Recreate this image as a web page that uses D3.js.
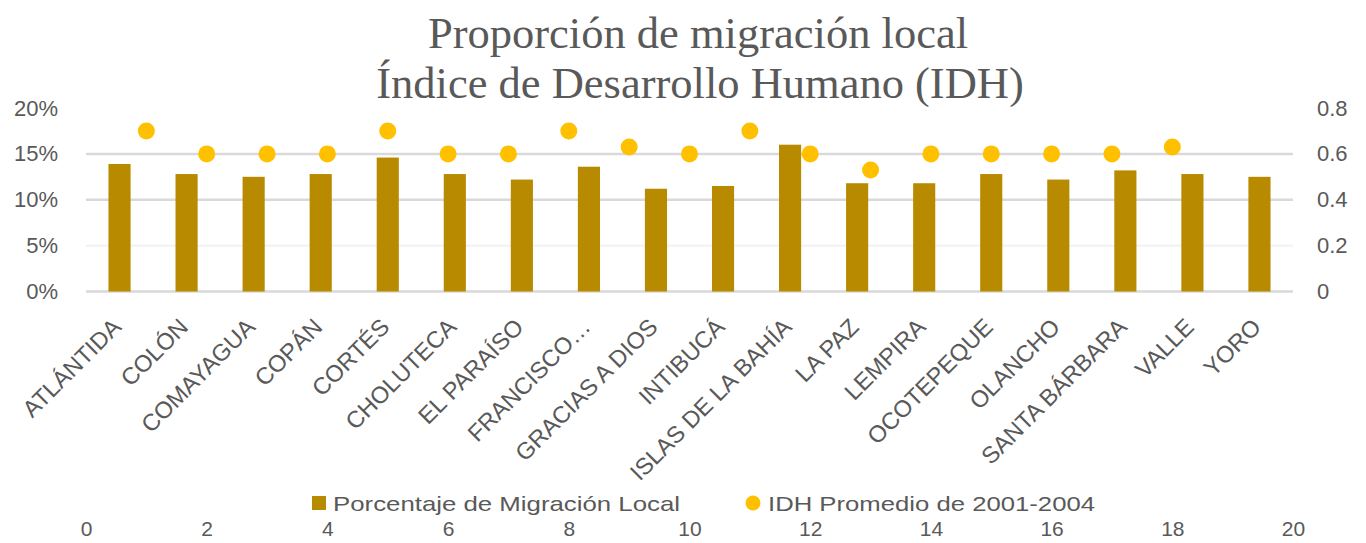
<!DOCTYPE html>
<html>
<head>
<meta charset="utf-8">
<title>Proporción de migración local</title>
<script src="https://cdn.jsdelivr.net/npm/d3@7"></script>
<style>
  body { margin: 0; background: #fff; }
  text { font-family: "Liberation Sans", Arial, sans-serif; fill: #595959; }
</style>
</head>
<body>
<div id="chart"></div>
<script>
// datos
const departamentos = ["ATLÁNTIDA", "COLÓN", "COMAYAGUA", "COPÁN", "CORTÉS", "CHOLUTECA",
  "EL PARAÍSO", "FRANCISCO…", "GRACIAS A DIOS", "INTIBUCÁ", "ISLAS DE LA BAHÍA", "LA PAZ",
  "LEMPIRA", "OCOTEPEQUE", "OLANCHO", "SANTA BÁRBARA", "VALLE", "YORO"];
const migracion = [0.139, 0.128, 0.125, 0.128, 0.146, 0.128, 0.122, 0.136, 0.112, 0.115,
  0.160, 0.118, 0.118, 0.128, 0.122, 0.132, 0.128, 0.125];
const idhX = [1, 2, 3, 4, 5, 6, 7, 8, 9, 10, 11, 12, 13, 14, 15, 16, 17, 18];
const idh = [0.70, 0.60, 0.60, 0.60, 0.70, 0.60, 0.60, 0.70, 0.63, 0.60, 0.70, 0.60,
  0.53, 0.60, 0.60, 0.60, 0.60, 0.63];
const ticksIzq = [0, 0.05, 0.10, 0.15, 0.20];
const ticksDer = [0, 0.2, 0.4, 0.6, 0.8];
const ticksAbajo = [0, 2, 4, 6, 8, 10, 12, 14, 16, 18, 20];

const W = 1366, H = 543;
const plot = {left: 86, right: 1293, top: 108, bottom: 291.5};

const svg = d3.select("#chart").append("svg")
    .attr("width", W)
    .attr("height", H);

const x = d3.scaleBand()
    .domain(departamentos)
    .range([plot.left, plot.right])
    .paddingInner(0.67)
    .paddingOuter(0.335);

const y = d3.scaleLinear().domain([0, 0.2]).range([plot.bottom, plot.top]);
const y2 = d3.scaleLinear().domain([0, 0.8]).range([plot.bottom, plot.top]);
const x2 = d3.scaleLinear().domain([0, 20]).range([plot.left, plot.right]);

// título
const title = svg.append("text")
    .attr("text-anchor", "middle")
    .style("font-family", "'Liberation Serif', 'Times New Roman', serif")
    .style("font-size", "44.5px");
title.append("tspan").attr("x", 698).attr("y", 48).text("Proporción de migración local");
title.append("tspan").attr("x", 700).attr("y", 98).text("Índice de Desarrollo Humano (IDH)");

// líneas de división
const gridColor = {0: "#d9d9d9", 0.05: "#f4f4f4", 0.1: "#d9d9d9", 0.15: "#d9d9d9", 0.2: "#ffffff"};
svg.append("g")
  .selectAll("line")
  .data(ticksIzq)
  .enter().append("line")
    .attr("x1", plot.left)
    .attr("x2", plot.right)
    .attr("y1", d => y(d))
    .attr("y2", d => y(d))
    .style("stroke", d => gridColor[d])
    .style("stroke-width", 2.5);

// eje izquierdo
const axisL = svg.append("g")
    .attr("transform", "translate(58,0)")
    .call(d3.axisLeft(y).tickValues(ticksIzq).tickFormat(d3.format(".0%")).tickSize(0).tickPadding(0));
axisL.select(".domain").remove();
axisL.selectAll("text").style("font-size", "22px").style("fill", "#595959");

// eje derecho
const axisR = svg.append("g")
    .attr("transform", "translate(1317,0)")
    .call(d3.axisRight(y2).tickValues(ticksDer).tickFormat(d => d === 0 ? "0" : d3.format(".1f")(d)).tickSize(0).tickPadding(0));
axisR.select(".domain").remove();
axisR.selectAll("text").style("font-size", "22px").style("fill", "#595959");

// barras
svg.append("g")
  .selectAll("rect")
  .data(migracion)
  .enter().append("rect")
    .attr("x", (d, i) => x(departamentos[i]))
    .attr("width", x.bandwidth())
    .attr("y", d => y(d))
    .attr("height", d => y(0) - y(d))
    .style("fill", "#b88a00");

// puntos IDH
svg.append("g")
  .selectAll("circle")
  .data(idh)
  .enter().append("circle")
    .attr("cx", (d, i) => x2(idhX[i]))
    .attr("cy", d => y2(d))
    .attr("r", 8.5)
    .style("fill", "#ffc000");

// etiquetas de categorías
const axisB = svg.append("g")
    .attr("transform", "translate(0," + (plot.bottom + 37) + ")")
    .call(d3.axisBottom(x).tickSize(0).tickPadding(0));
axisB.select(".domain").remove();
axisB.selectAll("text")
    .attr("y", 0)
    .attr("dy", 0)
    .attr("transform", "translate(3,0) rotate(-45)")
    .style("text-anchor", "end")
    .style("font-size", "23.5px")
    .style("fill", "#595959");

// eje x secundario (abajo)
const axisX2 = svg.append("g")
    .attr("transform", "translate(0,521)")
    .call(d3.axisBottom(x2).tickValues(ticksAbajo).tickSize(0).tickPadding(0));
axisX2.select(".domain").remove();
axisX2.selectAll("text").style("font-size", "21px").style("fill", "#595959");

// leyenda
const legend = svg.append("g").attr("transform", "translate(0,504)");
legend.append("rect")
    .attr("x", 312).attr("y", -8).attr("width", 14).attr("height", 14)
    .style("fill", "#b88a00");
legend.append("text")
    .attr("x", 333).attr("y", 7)
    .attr("textLength", 347)
    .attr("lengthAdjust", "spacingAndGlyphs")
    .style("font-size", "21px")
    .text("Porcentaje de Migración Local");
legend.append("circle")
    .attr("cx", 753).attr("cy", -1).attr("r", 7.5)
    .style("fill", "#ffc000");
legend.append("text")
    .attr("x", 768).attr("y", 7)
    .attr("textLength", 327)
    .attr("lengthAdjust", "spacingAndGlyphs")
    .style("font-size", "21px")
    .text("IDH Promedio de 2001-2004");
</script>
</body>
</html>
